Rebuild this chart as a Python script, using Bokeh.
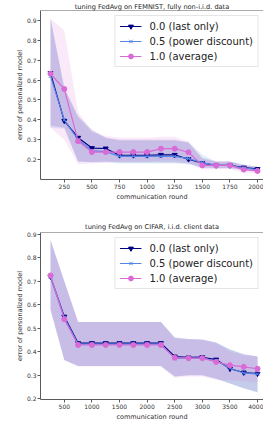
from bokeh.plotting import figure
from bokeh.layouts import column
from bokeh.models import Range1d, FixedTicker, Span
from bokeh.embed import file_html
from bokeh.resources import INLINE

# ---------------- data: FEMNIST (top) ----------------
fem_rounds = [125, 250, 375, 500, 625, 750, 875, 1000, 1125, 1250, 1375, 1500, 1625, 1750, 1875, 2000]
fem_last = [0.635, 0.395, 0.31, 0.258, 0.256, 0.222, 0.222, 0.222, 0.224, 0.224, 0.202, 0.182, 0.171, 0.171, 0.160, 0.153]
fem_power = [0.62, 0.40, 0.30, 0.245, 0.24, 0.216, 0.216, 0.216, 0.216, 0.216, 0.205, 0.185, 0.171, 0.171, 0.158, 0.150]
fem_avg = [0.632, 0.555, 0.293, 0.238, 0.238, 0.238, 0.238, 0.238, 0.255, 0.255, 0.237, 0.171, 0.171, 0.171, 0.150, 0.143]
fem_last_hi = [0.91, 0.56, 0.42, 0.35, 0.31, 0.30, 0.30, 0.30, 0.30, 0.30, 0.285, 0.21, 0.19, 0.19, 0.175, 0.165]
fem_last_lo = [0.37, 0.36, 0.19, 0.188, 0.19, 0.185, 0.185, 0.185, 0.185, 0.185, 0.18, 0.16, 0.158, 0.158, 0.148, 0.14]
fem_power_hi = [0.91, 0.56, 0.41, 0.34, 0.31, 0.295, 0.295, 0.295, 0.295, 0.295, 0.29, 0.226, 0.19, 0.19, 0.172, 0.163]
fem_power_lo = [0.36, 0.355, 0.19, 0.185, 0.185, 0.18, 0.18, 0.18, 0.18, 0.18, 0.175, 0.158, 0.155, 0.155, 0.146, 0.138]
fem_avg_hi = [0.91, 0.848, 0.44, 0.34, 0.32, 0.31, 0.31, 0.31, 0.315, 0.315, 0.29, 0.2, 0.19, 0.19, 0.168, 0.16]
fem_avg_lo = [0.36, 0.30, 0.178, 0.18, 0.185, 0.19, 0.19, 0.19, 0.195, 0.195, 0.185, 0.15, 0.152, 0.152, 0.135, 0.128]
fem_xticks = [250, 500, 750, 1000, 1250, 1500, 1750, 2000]

# ---------------- data: CIFAR (bottom) ----------------
cif_rounds = [250, 500, 750, 1000, 1250, 1500, 1750, 2000, 2250, 2500, 2750, 3000, 3250, 3500, 3750, 4000]
cif_last = [0.72, 0.55, 0.437, 0.437, 0.437, 0.437, 0.437, 0.437, 0.437, 0.38, 0.376, 0.377, 0.367, 0.328, 0.312, 0.307]
cif_power = [0.718, 0.545, 0.433, 0.433, 0.433, 0.433, 0.433, 0.433, 0.433, 0.372, 0.373, 0.373, 0.362, 0.33, 0.31, 0.305]
cif_avg = [0.725, 0.539, 0.429, 0.429, 0.429, 0.429, 0.429, 0.429, 0.429, 0.375, 0.373, 0.373, 0.357, 0.343, 0.336, 0.328]
cif_last_hi = [0.875, 0.70, 0.527, 0.527, 0.527, 0.527, 0.527, 0.527, 0.527, 0.462, 0.455, 0.452, 0.44, 0.41, 0.39, 0.38]
cif_last_lo = [0.58, 0.365, 0.34, 0.34, 0.34, 0.34, 0.34, 0.34, 0.34, 0.295, 0.30, 0.30, 0.285, 0.265, 0.245, 0.228]
cif_power_hi = [0.875, 0.70, 0.527, 0.527, 0.527, 0.527, 0.527, 0.527, 0.527, 0.46, 0.455, 0.452, 0.44, 0.41, 0.39, 0.38]
cif_power_lo = [0.58, 0.365, 0.34, 0.34, 0.34, 0.34, 0.34, 0.34, 0.34, 0.295, 0.30, 0.30, 0.285, 0.265, 0.245, 0.228]
cif_avg_hi = [0.875, 0.70, 0.527, 0.527, 0.527, 0.527, 0.527, 0.527, 0.527, 0.455, 0.452, 0.45, 0.437, 0.40, 0.385, 0.38]
cif_avg_lo = [0.58, 0.365, 0.338, 0.338, 0.338, 0.338, 0.338, 0.338, 0.338, 0.29, 0.295, 0.295, 0.28, 0.28, 0.275, 0.27]
cif_xticks = [500, 1000, 1500, 2000, 2500, 3000, 3500, 4000]

yticks = [0.2, 0.3, 0.4, 0.5, 0.6, 0.7, 0.8, 0.9]
labels = ["0.0 (last only)", "0.5 (power discount)", "1.0 (average)"]
colors = ["#000080", "#5585e6", "#da6ad6"]

FONT = "DejaVu Sans"
AXC = "#5a5a5a"
TXT = "#333333"
LEFT_PAD = 12


def make_fig(title, x, series, bands, xr, yr, xticks, height, top, bottom, tstand):
    p = figure(width=263 - LEFT_PAD, height=height, x_range=Range1d(*xr), y_range=Range1d(*yr),
               output_backend="svg", toolbar_location=None, title=title,
               min_border_left=38 - LEFT_PAD, min_border_right=0,
               min_border_top=top, min_border_bottom=bottom,
               margin=(0, 0, 0, LEFT_PAD))
    p.title.align = "center"
    p.title.text_font = FONT
    p.title.text_font_size = "6.6px"
    p.title.text_font_style = "normal"
    p.title.text_color = "#222222"
    p.title.standoff = tstand
    p.outline_line_color = None
    p.grid.visible = False
    p.background_fill_color = "white"
    p.border_fill_color = "white"

    for (lo, hi), c in zip(bands, colors):
        p.varea(x=x, y1=lo, y2=hi, fill_color=c, fill_alpha=0.15)

    markers = ["inverted_triangle", "x", "circle"]
    sizes = [5, 5, 5]
    for ys, c, m, s, lab in zip(series, colors, markers, sizes, labels):
        p.line(x, ys, line_color=c, line_width=1.2, legend_label=lab)
        if m == "x":
            p.scatter(x, ys, marker=m, size=s, line_color=c, line_width=1.0, legend_label=lab)
        else:
            p.scatter(x, ys, marker=m, size=s, fill_color=c, line_color=c, legend_label=lab)

    p.add_layout(Span(location=yr[1], dimension="width", line_color=AXC, line_width=1))

    for ax in (p.xaxis[0], p.yaxis[0]):
        ax.axis_line_color = AXC
        ax.major_tick_line_color = AXC
        ax.major_tick_out = 3
        ax.major_tick_in = 0
        ax.minor_tick_line_color = None
        ax.major_label_text_font = FONT
        ax.major_label_text_font_size = "6px"
        ax.major_label_text_color = TXT
        ax.axis_label_text_font = FONT
        ax.axis_label_text_font_size = "6.5px"
        ax.axis_label_text_font_style = "normal"
        ax.axis_label_text_color = TXT
    p.xaxis[0].major_label_standoff = 1
    p.xaxis[0].axis_label_standoff = 1
    p.yaxis[0].major_label_standoff = 1
    p.yaxis[0].axis_label_standoff = 0
    p.xaxis[0].ticker = FixedTicker(ticks=xticks)
    p.yaxis[0].ticker = FixedTicker(ticks=yticks)
    p.xaxis[0].axis_label = "communication round"
    p.yaxis[0].axis_label = "error of personalized model"

    lg = p.legend[0]
    lg.location = "top_right"
    lg.margin = 5
    lg.padding = 4
    lg.spacing = 3
    lg.label_height = 12
    lg.glyph_height = 12
    lg.glyph_width = 22
    lg.label_standoff = 8
    lg.label_text_font = FONT
    lg.label_text_font_size = "10px"
    lg.label_text_color = "#222222"
    lg.border_line_color = "#cccccc"
    lg.background_fill_alpha = 0.85
    return p


p1 = make_fig("tuning FedAvg on FEMNIST, fully non-i.i.d. data", fem_rounds,
              [fem_last, fem_power, fem_avg],
              [(fem_last_lo, fem_last_hi), (fem_power_lo, fem_power_hi), (fem_avg_lo, fem_avg_hi)],
              (34.5, 2054), (0.10, 0.95), fem_xticks, 205, 8, 26, 0)
p2 = make_fig("tuning FedAvg on CIFAR, i.i.d. client data", cif_rounds,
              [cif_last, cif_power, cif_avg],
              [(cif_last_lo, cif_last_hi), (cif_power_lo, cif_power_hi), (cif_avg_lo, cif_avg_hi)],
              (69, 4108), (0.197, 0.908), cif_xticks, 218, 27, 19, 4)

layout = column(p1, p2, spacing=0)
open("out.html", "w").write(file_html(layout, INLINE))
